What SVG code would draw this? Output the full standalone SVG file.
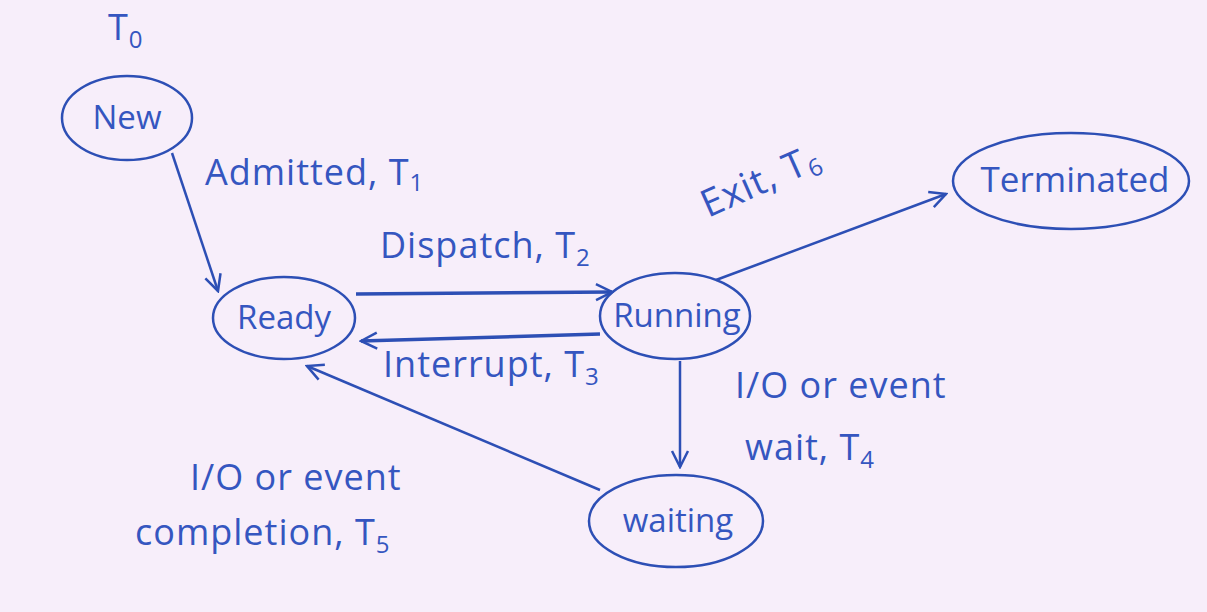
<svg xmlns="http://www.w3.org/2000/svg" width="1207" height="612" viewBox="0 0 1207 612">
<style>
.n{fill:none;stroke:#2d4fb5;stroke-width:2.5}
.c{fill:none;stroke:#2d4fb5;stroke-width:2.5}
.t{stroke-width:3.5}
text{font-family:"Open Sans","Liberation Sans",sans-serif;fill:#3556c0;font-size:36px;letter-spacing:1px}
.nt{font-size:33px;letter-spacing:0}
.s{font-size:24px}
</style>
<defs>
<marker id="a" viewBox="0 0 20 20" refX="18" refY="10" markerWidth="20" markerHeight="20" markerUnits="userSpaceOnUse" orient="auto">
<path d="M2,2 L18,10 L2,18" fill="none" stroke="#2d4fb5" stroke-width="2.5"/>
</marker>
</defs>
<rect width="1207" height="612" fill="#f7eefa"/>
<text x="108" y="40">T<tspan class="s" dy="8">0</tspan></text>
<g id="new"><ellipse class="n" cx="127" cy="118" rx="65" ry="42"/><text class="nt" x="127" y="129" text-anchor="middle">New</text></g>
<g id="ready"><ellipse class="n" cx="284" cy="318" rx="71" ry="41"/><text class="nt" x="284" y="329" text-anchor="middle">Ready</text></g>
<g id="running"><ellipse class="n" cx="675" cy="316" rx="75" ry="43"/><text class="nt" x="677" y="327" text-anchor="middle">Running</text></g>
<g id="terminated"><ellipse class="n" cx="1071" cy="181" rx="118" ry="48"/><text class="nt" x="1075" y="192" text-anchor="middle" style="font-size:35px">Terminated</text></g>
<g id="waiting"><ellipse class="n" cx="676" cy="521" rx="87" ry="46"/><text class="nt" x="678" y="532" text-anchor="middle">waiting</text></g>
<g id="connectors">
<path class="c" d="M172,153 L218,291" marker-end="url(#a)"/>
<path class="c t" d="M356,294 L612,292" marker-end="url(#a)"/>
<path class="c t" d="M600,334 L361,341" marker-end="url(#a)"/>
<path class="c" d="M716,280 L946,194" marker-end="url(#a)"/>
<path class="c" d="M680,361 L680,467" marker-end="url(#a)"/>
<path class="c" d="M600,490 L307,366" marker-end="url(#a)"/>
</g>
<g id="labels">
<text x="205" y="185">Admitted, T<tspan class="s" dy="6">1</tspan></text>
<text x="380" y="258">Dispatch, T<tspan class="s" dy="8">2</tspan></text>
<text x="383" y="377">Interrupt, T<tspan class="s" dy="8">3</tspan></text>
<text transform="translate(708,218) rotate(-24)" style="font-size:38px">Exit, T<tspan class="s" dy="6">6</tspan></text>
<text x="735" y="398">I/O or event</text>
<text x="745" y="460">wait, T<tspan class="s" dy="8">4</tspan></text>
<text x="190" y="490">I/O or event</text>
<text x="135" y="545">completion, T<tspan class="s" dy="8">5</tspan></text>
</g>
</svg>
